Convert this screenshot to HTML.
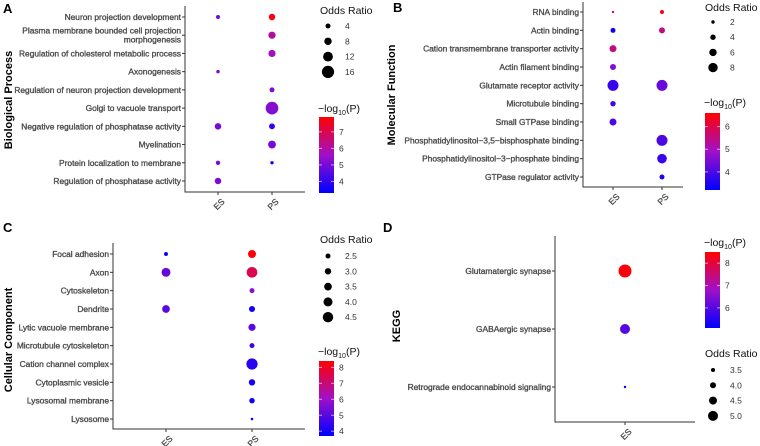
<!DOCTYPE html>
<html><head><meta charset="utf-8"><style>
html,body{margin:0;padding:0;background:#fff;}
svg{display:block;font-family:"Liberation Sans",Arial,sans-serif;}
.tk{font-size:8.4px;fill:#4d4d4d;stroke:#4d4d4d;stroke-width:0.35;}
.xk{font-size:8.6px;fill:#4d4d4d;stroke:#4d4d4d;stroke-width:0.3;}
.lt{font-size:10.5px;fill:#111;}
.ll{font-size:8.5px;fill:#333;}
.yt{font-size:11px;font-weight:bold;fill:#000;}
.pl{font-size:13px;font-weight:bold;fill:#000;}
</style></head><body>
<svg id="chart" width="760" height="446" viewBox="0 0 760 446" xmlns="http://www.w3.org/2000/svg">
<defs>
<linearGradient id="cg" x1="0" y1="1" x2="0" y2="0">
<stop offset="0" stop-color="#0000ff"/><stop offset="0.5" stop-color="#a010c8"/><stop offset="1" stop-color="#ff0000"/>
</linearGradient>
</defs>
</svg>
<script>
// ---- Panel A data ----
const aTerms=["Neuron projection development","Plasma membrane bounded cell projection|morphogenesis","Regulation of cholesterol metabolic process","Axonogenesis","Regulation of neuron projection development","Golgi to vacuole transport","Negative regulation of phosphatase activity","Myelination","Protein localization to membrane","Regulation of phosphatase activity"];
const aGroups=["ES","PS"];
const aES_OR=[2.4,null,null,1.5,null,null,6.5,null,3,6.5];
const aES_P=[5,null,null,5,null,null,5,null,5,5];
const aPS_OR=[6.5,7.7,7.7,null,4,16.8,5.5,8.7,1.2,null];
const aPS_P=[7.7,6,5.7,null,5.2,5.2,4,5,3.5,null];
const aORTicks=[4,8,12,16];
const aPTicks=[7,6,5,4];
// ---- Panel B data ----
const bTerms=["RNA binding","Actin binding","Cation transmembrane transporter activity","Actin filament binding","Glutamate receptor activity","Microtubule binding","Small GTPase binding","Phosphatidylinositol\u22123,5\u2212bisphosphate binding","Phosphatidylinositol\u22123\u2212phosphate binding","GTPase regulator activity"];
const bGroups=["ES","PS"];
const bES_OR=[1.0,3.6,5.6,4.6,9.6,4.0,5.6,null,null,null];
const bES_P=[5.5,3.3,5.5,4.6,3.8,3.9,4.0,null,null,null];
const bPS_OR=[2.6,4.6,null,null,9.6,null,null,9.6,8.2,3.6];
const bPS_P=[6.5,5.5,null,null,4.3,null,null,4.0,3.8,3.5];
const bORTicks=[2,4,6,8];
const bPTicks=[6,5,4];
// ---- Panel C data ----
const cTerms=["Focal adhesion","Axon","Cytoskeleton","Dendrite","Lytic vacuole membrane","Microtubule cytoskeleton","Cation channel complex","Cytoplasmic vesicle","Lysosomal membrane","Lysosome"];
const cGroups=["ES","PS"];
const cES_OR=[2.1,3.95,null,3.5,null,null,null,null,null,null];
const cES_P=[3.9,5.2,null,5.0,null,null,null,null,null,null];
const cPS_OR=[3.6,4.6,2.5,2.9,3.3,2.5,4.8,3.0,2.7,1.6];
const cPS_P=[8.3,7.5,5.8,4.0,5.0,4.6,4.3,4.0,4.0,3.8];
const cORTicks=[2.5,3.0,3.5,4.0,4.5];
const cPTicks=[8,7,6,5,4];
// ---- Panel D data ----
const dTerms=["Glutamatergic synapse","GABAergic synapse","Retrograde endocannabinoid signaling"];
const dGroups=["ES"];
const dES_OR=[5.75,5.0,3.1];
const dES_P=[8.4,6.0,5.1];
const dORTicks=[3.5,4.0,4.5,5.0];
const dPTicks=[8,7,6];

const NS="http://www.w3.org/2000/svg";
const svg=document.getElementById('chart');
function mk(tag,attrs,parent){const e=document.createElementNS(NS,tag);for(const k in attrs)e.setAttribute(k,attrs[k]);(parent||svg).appendChild(e);return e;}
function lerp(a,b,t){return a+(b-a)*t;}
function colorOf(v,pmin,pmax){
  let t=Math.max(0,Math.min(1,(v-pmin)/(pmax-pmin)));
  const s=[[0,0,255],[160,16,200],[255,0,0]];
  let c;
  if(t<0.5){const u=t/0.5;c=s[0].map((x,i)=>Math.round(lerp(x,s[1][i],u)));}
  else{const u=(t-0.5)/0.5;c=s[1].map((x,i)=>Math.round(lerp(x,s[2][i],u)));}
  return `rgb(${c[0]},${c[1]},${c[2]})`;
}

function panel(cfg){
  const g=mk('g',{});
  
  
  const lab=mk('text',{x:cfg.lx,y:cfg.ly,class:'pl'},g);lab.textContent=cfg.letter;
  
  
  const yt=mk('text',{x:cfg.ytx,y:cfg.yty,class:'yt','text-anchor':'middle',transform:`rotate(-90 ${cfg.ytx} ${cfg.yty})`},g);yt.textContent=cfg.ytitle;
  
  
  const ax=mk('path',{d:`M${cfg.ax} ${cfg.top} V${cfg.bot} H${cfg.right}`,stroke:'#333',fill:'none','stroke-width':1},g);
  
  
  const n=cfg.terms.length;
  const yPos=i=>cfg.y0+(cfg.y1-cfg.y0)*i/(n-1);
  const rOf=o=>Math.max(1.1,cfg.r0+(o-cfg.o0)*cfg.rk);
  cfg.terms.forEach((t,i)=>{
    const y=yPos(i);
    mk('line',{x1:cfg.ax-3,x2:cfg.ax,y1:y,y2:y,stroke:'#333'},g);
    const parts=t.split('|');
    const tx=mk('text',{x:cfg.ax-4,y:y+3-(parts.length-1)*4.5,class:'tk','text-anchor':'end'},g);
    
    
    parts.forEach((p,j)=>{const ts=mk('tspan',{x:cfg.ax-4,dy:j?9:0},tx);ts.textContent=p;});
  });
  cfg.groups.forEach((gname,gi)=>{
    const x=cfg.gx[gi];
    mk('line',{x1:x,x2:x,y1:cfg.bot,y2:cfg.bot+3,stroke:'#333'},g);
    const tl=mk('text',{x:x+3,y:cfg.bot+6,class:'xk','text-anchor':'end',transform:`rotate(-45 ${x+3} ${cfg.bot+6}) translate(0 6)`},g);
    tl.textContent=gname;
    
    
    const ors=cfg.ors[gi],ps=cfg.ps[gi];
    ors.forEach((o,i)=>{
      if(o==null||ps[i]==null)return;
      const c=mk('circle',{cx:x,cy:yPos(i),r:rOf(o),fill:colorOf(ps[i],cfg.pmin,cfg.pmax)},g);
      
      
    });
  });
  const st=mk('text',{x:cfg.slx,y:cfg.sly,class:'lt'},g);st.textContent='Odds Ratio';
  
  
  cfg.orTicks.forEach((v,i)=>{
    const y=cfg.sly+cfg.sy0+i*cfg.sdy;
    const c=mk('circle',{cx:cfg.slx+8,cy:y,r:rOf(v),fill:'#000'},g);
    
    
    const t=mk('text',{x:cfg.slx+25,y:y+3,class:'ll'},g);t.textContent=cfg.orFmt?v.toFixed(1):v;
  });
  const ct=mk('text',{x:cfg.cbx-1,y:cfg.cbt,class:'lt'},g);
  
  
  ct.innerHTML='<tspan>\u2212log</tspan><tspan font-size="7" dy="3">10</tspan><tspan dy="-3">(P)</tspan>';
  const cb=mk('rect',{x:cfg.cbx,y:cfg.cby0,width:15,height:cfg.cby1-cfg.cby0,fill:'url(#cg)'},g);
  
  
  cfg.pTicks.forEach(v=>{
    const y=cfg.cby1-(v-cfg.pmin)/(cfg.pmax-cfg.pmin)*(cfg.cby1-cfg.cby0);
    mk('line',{x1:cfg.cbx,x2:cfg.cbx+3,y1:y,y2:y,stroke:'#fff','stroke-opacity':0.6},g);
    mk('line',{x1:cfg.cbx+12,x2:cfg.cbx+15,y1:y,y2:y,stroke:'#fff','stroke-opacity':0.6},g);
    const t=mk('text',{x:cfg.cbx+20,y:y+3,class:'ll'},g);t.textContent=v;
  });
}

panel({name:'panel-a-biological-process',letter:'A',lx:3,ly:13,ytitle:'Biological Process',ytx:12,yty:100,
  terms:aTerms,groups:aGroups,ax:185,top:6,bot:192,right:305,gx:[218,272],y0:17,y1:181,
  ors:[aES_OR,aPS_OR],ps:[aES_P,aPS_P],r0:2.5,o0:4,rk:0.3,pmin:3.3,pmax:7.9,
  orTicks:aORTicks,pTicks:aPTicks,slx:320,sly:14,sy0:12,sdy:15.3,cbx:319,cbt:112,cby0:117,cby1:193});
panel({name:'panel-b-molecular-function',letter:'B',lx:393,ly:12,ytitle:'Molecular Function',ytx:395,yty:95,
  terms:bTerms,groups:bGroups,ax:583,top:2,bot:187,right:683,gx:[613,662],y0:12,y1:177,
  ors:[bES_OR,bPS_OR],ps:[bES_P,bPS_P],r0:1.7,o0:2,rk:0.5,pmin:3.2,pmax:6.6,
  orTicks:bORTicks,pTicks:bPTicks,slx:705,sly:11,sy0:11,sdy:15.2,cbx:705,cbt:106,cby0:113,cby1:190});
panel({name:'panel-c-cellular-component',letter:'C',lx:3,ly:232,ytitle:'Cellular Component',ytx:12,yty:340,
  terms:cTerms,groups:cGroups,ax:113,top:243,bot:429,right:305,gx:[166,252],y0:254,y1:419,
  ors:[cES_OR,cPS_OR],ps:[cES_P,cPS_P],r0:2.5,o0:2.5,rk:1.35,pmin:3.7,pmax:8.4,orFmt:true,
  orTicks:cORTicks,pTicks:cPTicks,slx:320,sly:243,sy0:13,sdy:15.3,cbx:319,cbt:355,cby0:361,cby1:436});
panel({name:'panel-d-kegg',letter:'D',lx:383,ly:232,ytitle:'KEGG',ytx:400,yty:326,
  terms:dTerms,groups:dGroups,ax:555,top:236,bot:422,right:695,gx:[625],y0:271,y1:387,
  ors:[dES_OR],ps:[dES_P],r0:2,o0:3.5,rk:2,pmin:5.1,pmax:8.5,orFmt:true,
  orTicks:dORTicks,pTicks:dPTicks,slx:705,sly:357,sy0:13,sdy:15.3,cbx:705,cbt:246,cby0:252,cby1:328});
</script>
</body></html>
